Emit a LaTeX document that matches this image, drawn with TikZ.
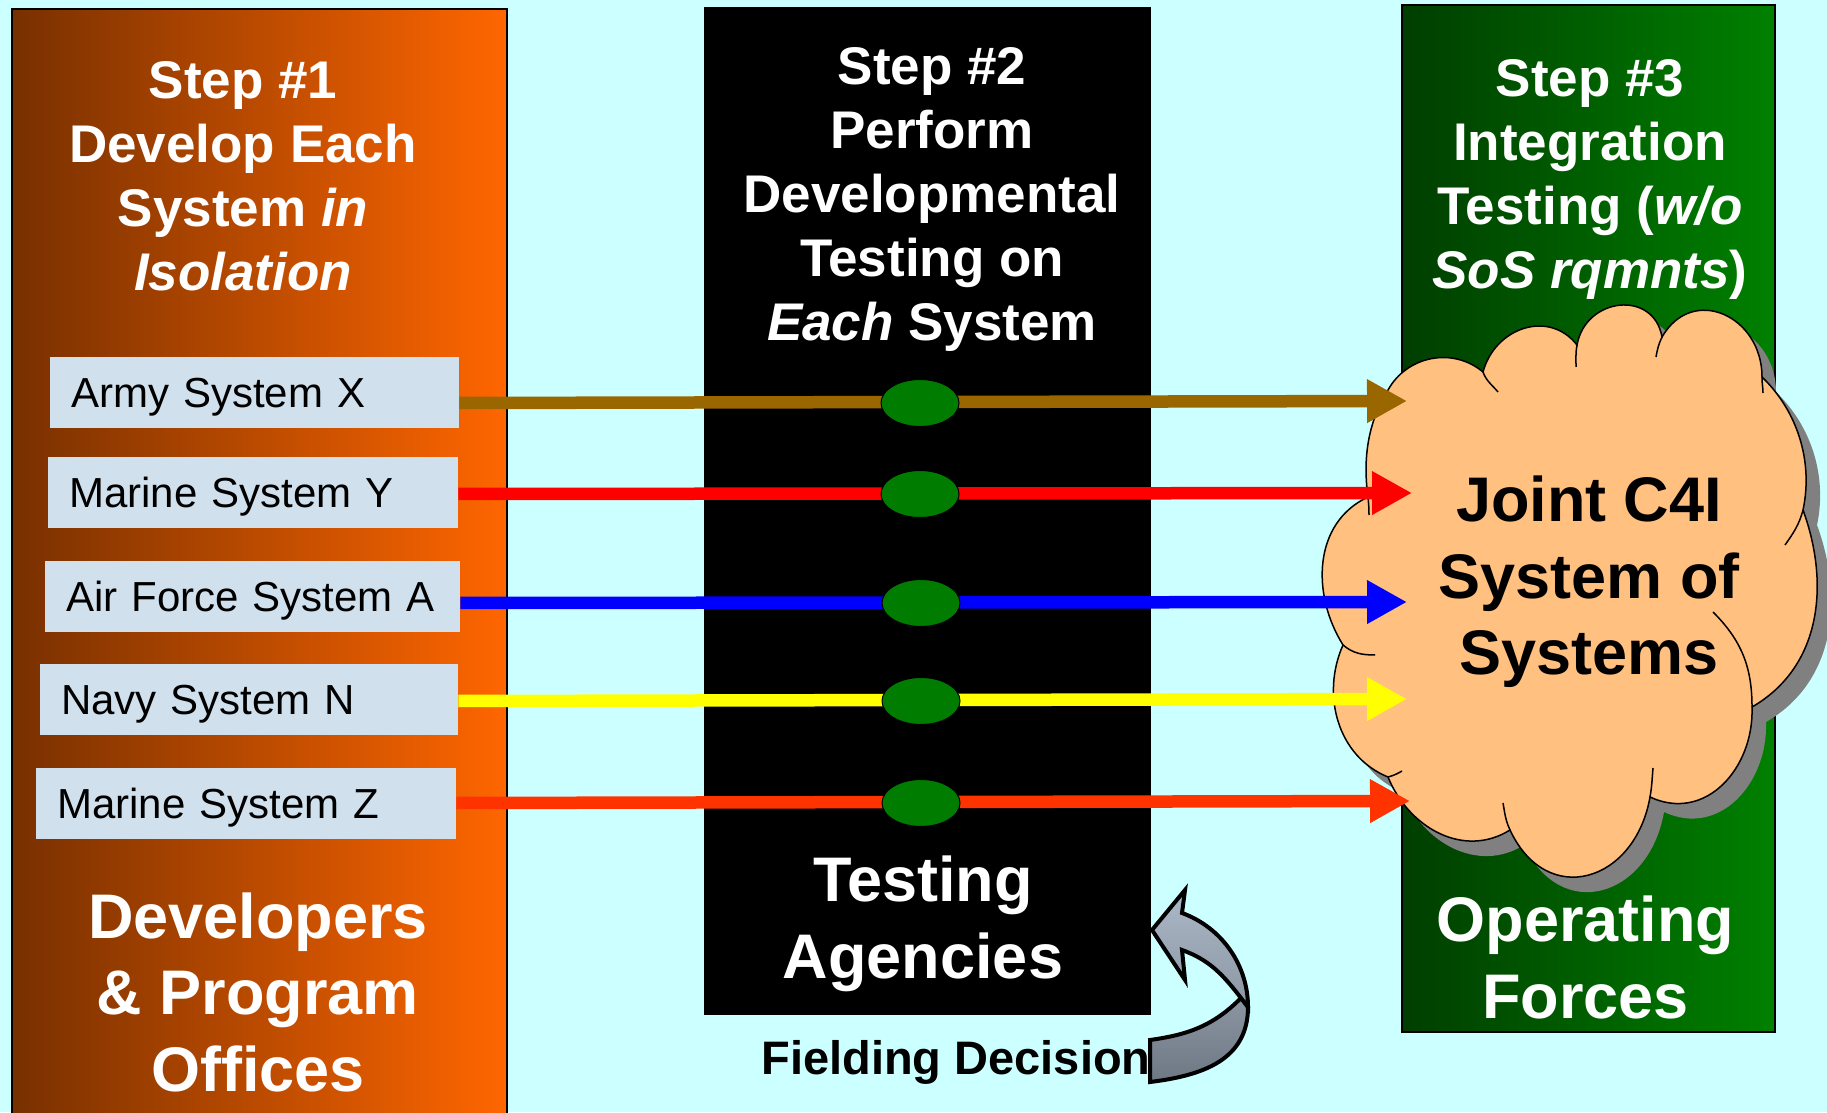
\documentclass[tikz,border=0pt]{standalone}
\usepackage{fontspec}
\setmainfont{Liberation Sans}
\usepackage{tikz}
\usetikzlibrary{positioning,shapes.geometric,arrows.meta}

\definecolor{bgcyan}{RGB}{204,255,255}
\definecolor{devdark}{RGB}{120,48,0}
\definecolor{devorange}{RGB}{255,102,0}
\definecolor{opsdark}{RGB}{0,62,0}
\definecolor{opsgreen}{RGB}{0,128,0}
\definecolor{sysblue}{RGB}{208,224,236}
\definecolor{checkgreen}{RGB}{0,125,0}
\definecolor{cloudorange}{RGB}{255,192,128}
\definecolor{cloudshadow}{RGB}{128,128,128}
\definecolor{armybrown}{RGB}{153,102,0}
\definecolor{marinered}{RGB}{255,0,0}
\definecolor{airblue}{RGB}{0,0,255}
\definecolor{navyyellow}{RGB}{255,255,0}
\definecolor{marineorange}{RGB}{255,51,0}
\definecolor{turnlight}{RGB}{172,184,200}
\definecolor{turnmid}{RGB}{140,150,163}
\definecolor{turndark}{RGB}{110,120,132}

\begin{document}
\begin{tikzpicture}[x=1pt, y=1pt, node distance=32pt]
		\tikzstyle{panel} = [rectangle, inner sep=0pt, line width=1.5pt];
		\tikzstyle{steptitle} = [text=white, align=center, inner sep=0pt, font=\fontsize{53}{64}\selectfont\bfseries];
		\tikzstyle{bigtitle} = [align=center, inner sep=0pt, font=\fontsize{63}{76.5}\selectfont\bfseries];
		\tikzstyle{sysbox} = [rectangle, fill=sysblue, minimum height=71pt, inner xsep=21pt, inner ysep=0pt, align=left, text height=30pt, text depth=0pt, font=\fontsize{42}{50}\selectfont];
		\tikzstyle{checkpoint} = [ellipse, fill=checkgreen, draw=black, line width=1pt, minimum width=78pt, minimum height=47pt, inner sep=0pt];
		\tikzstyle{flow} = [line width=12.5pt, -{Triangle[length=40pt, width=41pt]}];
		\tikzstyle{sosshape} = [fill=cloudorange, draw=black, line width=1.5pt, preaction={fill=cloudshadow, transform canvas={shift={(14pt,-15pt)}}}];
		\tikzstyle{puff} = [draw=black, line width=1.5pt];
		\tikzstyle{fieldarrow} = [draw=black, line width=4pt, line join=miter];
		
		\useasboundingbox (0,0) rectangle (1827,1112);
		\fill[bgcyan] (0,0) rectangle (1827,1112);
		
		\node[panel, draw=black, left color=devdark, right color=devorange, minimum width=495pt, minimum height=1123pt](dev panel) at (259.5,541.5){};
		\node[panel, fill=black, minimum width=447pt, minimum height=1008pt](test panel) at (927.5,601){};
		\node[panel, draw=black, left color=opsdark, right color=opsgreen, minimum width=373pt, minimum height=1027pt](ops panel) at (1588.5,593.5){};
		
		\node[steptitle](step1) at (243,936){Step \#1\\Develop Each\\System \textit{in}\\\textit{Isolation}};
		\node[steptitle](step2) at (932,912){Step \#2\\Perform\\Developmental\\Testing on\\\textit{Each} System};
		\node[steptitle](step3) at (1590,932){Step \#3\\Integration\\Testing (\textit{w/o}\\\textit{SoS rqmnts})};
		
		\node[sysbox, text width=367pt, anchor=west](army) at (50,719.5){Army System X};
		\node[sysbox, text width=368pt, below=29pt of army.south west, anchor=north west, xshift=-2pt](marine y){Marine System Y};
		\node[sysbox, text width=373pt, below=of marine y.south west, anchor=north west, xshift=-3pt](air force){Air Force System A};
		\node[sysbox, text width=376pt, below=of air force.south west, anchor=north west, xshift=-5pt](navy){Navy System N};
		\node[sysbox, text width=378pt, below=of navy.south west, anchor=north west, xshift=-4pt](marine z){Marine System Z};
		
		\node[bigtitle, text=white](developers) at (258,119.7){Developers\\\& Program\\Offices};
		\node[bigtitle, text=white](agencies) at (923,188.4){Testing\\Agencies};
		\node[bigtitle, text=white](forces) at (1585.5,154.3){Operating\\Forces};
		
		\filldraw[sosshape] (1368,615) to[out=98,in=238,looseness=0.9] (1388,722)
		to[out=61,in=140,looseness=1.04] (1483,740)
		to[out=75,in=128,looseness=1.2] (1577,767)
		to[out=80,in=100,looseness=1.45] (1662,775)
		to[out=60,in=90,looseness=1.45] (1762,735)
		to[out=-44,in=78,looseness=0.91] (1803,602)
		to[out=-70,in=30,looseness=1.0] (1752,405)
		to[out=-88,in=-25,looseness=1.15] (1650,315)
		to[out=-100,in=-65,looseness=1.55] (1510,282)
		to[out=-148,in=-68,looseness=1.05] (1388,335)
		to[out=158,in=246,looseness=1.0] (1343,467)
		to[out=122,in=205,looseness=1.03] (1368,615) -- cycle;
		\draw[puff] (1483,740) to[out=-70,in=130] (1498,720)
		(1577,767) to[out=-100,in=90] (1576,745)
		(1662,775) to[out=-115,in=80] (1656,755)
		(1762,735) to[out=-92,in=90] (1763,719)
		(1803,602) to[out=-105,in=55] (1785,567)
		(1752,405) to[out=90,in=-45] (1713,500)
		(1650,315) to[out=80,in=-95] (1653,344)
		(1510,282) to[out=115,in=-80] (1503,309)
		(1388,335) to[out=15,in=210] (1402,341)
		(1343,467) to[out=-40,in=180] (1375,457)
		(1368,615) to[out=-85,in=90] (1369,597);
		\node[bigtitle](sos) at (1589,530){Joint C4I\\System of\\Systems};
		
		\coordinate (c1) at (920,709);
		\coordinate (c2) at (920,618);
		\coordinate (c3) at (921,509);
		\coordinate (c4) at (921,411);
		\coordinate (c5) at (921,309);
		\coordinate (tip1) at (1407,711);
		\coordinate (tip2) at (1412,619);
		\coordinate (tip3) at (1407,510);
		\coordinate (tip4) at (1407,413);
		\coordinate (tip5) at (1410,311);
		
		\path[flow] (army.east |- c1) edge[armybrown] (tip1)
		(marine y.east |- c2) edge[marinered] (tip2)
		(air force.east |- c3) edge[airblue] (tip3)
		(navy.east |- c4) edge[navyyellow] (tip4)
		(marine z.east |- c5) edge[marineorange] (tip5);
		
		\node[checkpoint](check1) at (c1){};
		\node[checkpoint](check2) at (c2){};
		\node[checkpoint](check3) at (c3){};
		\node[checkpoint](check4) at (c4){};
		\node[checkpoint](check5) at (c5){};
		
		\node[inner sep=0pt, font=\fontsize{47}{56}\selectfont\bfseries](fielding) at (956,50){Fielding Decision};
		
		\draw[fieldarrow, top color=turnmid, bottom color=turndark] (1248,105) to[out=-90,in=7,looseness=1.1] (1150,30) -- (1150,72) to[out=8,in=225] (1241,114) -- cycle;
		\draw[fieldarrow, top color=turnlight, bottom color=turnmid] (1152,182) -- (1185,222) -- (1182,199) to[out=-20,in=90,looseness=0.94] (1248,105) -- (1241,114) to[out=128,in=-20] (1182,162) -- (1185,132) -- cycle;
\end{tikzpicture}
\end{document}
